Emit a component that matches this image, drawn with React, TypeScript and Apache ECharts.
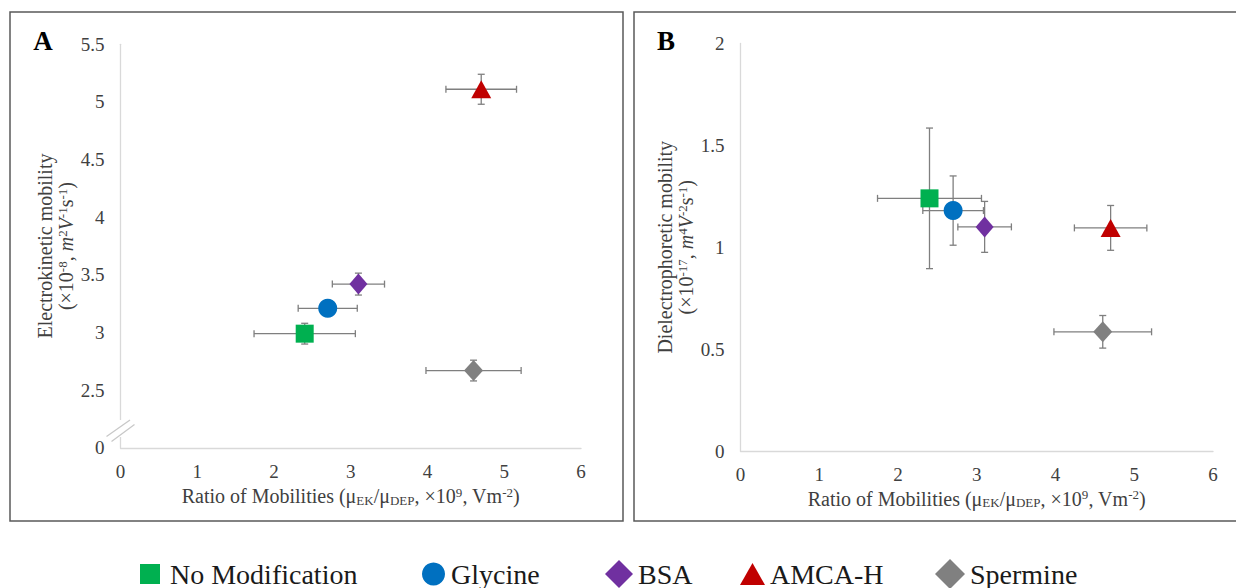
import React, { useEffect, useRef } from "react";
import * as echarts from "echarts";

const groups = ["No Modification", "Glycine", "BSA", "AMCA-H", "Spermine"];
const colors = ["#00b050", "#0070c0", "#7030a0", "#c00000", "#808080"];
const symbols = ["rect", "circle", "diamond", "triangle", "diamond"];
const symbolSizes: any[] = [18, 19, [18, 21], [20, 18], [19, 21]];

// Ratio of mobilities (x, both panels) and its error
const ratio = [2.4, 2.7, 3.1, 4.7, 4.6];
const ratioErr = [0.66, 0.385, 0.34, 0.46, 0.62];
// Panel A: electrokinetic mobility
const ekMob = [2.99, 3.21, 3.42, 5.11, 2.67];
const ekErr = [0.09, 0.05, 0.095, 0.13, 0.09];
// Panel B: dielectrophoretic mobility
const depMob = [1.24, 1.18, 1.1, 1.095, 0.585];
const depErr = [0.345, 0.17, 0.125, 0.11, 0.08];

const xTicks = [0, 1, 2, 3, 4, 5, 6];
const aYTicks = [2, 2.5, 3, 3.5, 4, 4.5, 5, 5.5];
const aYBreakLabel = "0";

const FONT = "'Liberation Serif', 'Times New Roman', serif";
const TXT = "#404040";

const richBase = {
  n: { fontSize: 20, fontFamily: FONT, color: TXT, lineHeight: 21 },
  i: { fontSize: 20, fontFamily: FONT, color: TXT, lineHeight: 21, fontStyle: "italic" },
  s: { fontSize: 13, fontFamily: FONT, color: TXT, lineHeight: 13, verticalAlign: "top" },
  b: { fontSize: 13, fontFamily: FONT, color: TXT, lineHeight: 13, verticalAlign: "bottom" },
};
const tickRich = { t: { fontSize: 19, fontFamily: FONT, color: TXT, lineHeight: 19 } };

const xName =
  "{n|Ratio of Mobilities (μ}{b|EK}{n|/μ}{b|DEP}{n|, ×10}{s|9}{n|, Vm}{s|-2}{n|)}";
const aYName =
  "{n|Electrokinetic mobility}\n{n|(×10}{s|-8}{n|, }{i|m}{s|2}{i|V}{s|-1}{n|s}{s|-1}{n|)}";
const bYName =
  "{n|Dielectrophoretic mobility}\n{n|(×10}{s|-17}{n|, }{i|m}{s|4}{i|V}{s|-2}{n|s}{s|-1}{n|)}";

function errorRender(params: any, api: any) {
  const x = api.value(0);
  const y = api.value(1);
  const xe = api.value(2);
  const ye = api.value(3);
  const l = api.coord([x - xe, y]);
  const r = api.coord([x + xe, y]);
  const t = api.coord([x, y + ye]);
  const b = api.coord([x, y - ye]);
  const cap = 3.5;
  const style = { stroke: "#7f7f7f", lineWidth: 1.3 };
  const ln = (x1: number, y1: number, x2: number, y2: number) => ({
    type: "line",
    shape: { x1, y1, x2, y2 },
    style,
  });
  return {
    type: "group",
    children: [
      ln(l[0], l[1], r[0], r[1]),
      ln(l[0], l[1] - cap, l[0], l[1] + cap),
      ln(r[0], r[1] - cap, r[0], r[1] + cap),
      ln(t[0], t[1], b[0], b[1]),
      ln(t[0] - cap, t[1], t[0] + cap, t[1]),
      ln(b[0] - cap, b[1], b[0] + cap, b[1]),
    ],
  };
}

export default function App() {
  const ref = useRef<HTMLDivElement>(null);
  useEffect(() => {
    document.body.style.margin = "0";
    const chart = echarts.init(ref.current!, null, { renderer: "svg" });

    const axisCommon = {
      axisLine: { show: true, lineStyle: { color: "#d9d9d9", width: 1.3 } },
      axisTick: { show: false },
      splitLine: { show: false },
    };

    const legendPos = [
      { left: 140, w: 20, h: 20, pad: 5 },
      { left: 422, w: 23, h: 23, pad: 1 },
      { left: 605, w: 28, h: 28, pad: 0 },
      { left: 740, w: 25, h: 22, pad: 0 },
      { left: 935, w: 30, h: 30, pad: 0 },
    ];

    const scatterSeries: any[] = [];
    groups.forEach((g, k) => {
      [0, 1].forEach((p) => {
        scatterSeries.push({
          type: "scatter",
          name: g,
          xAxisIndex: p,
          yAxisIndex: p,
          symbol: symbols[k],
          symbolSize: symbolSizes[k],
          itemStyle: { color: colors[k], opacity: 1 },
          z: 5,
          data: [[ratio[k], p === 0 ? ekMob[k] : depMob[k]]],
        });
      });
    });

    const option: any = {
      animation: false,
      backgroundColor: "#ffffff",
      textStyle: { fontFamily: FONT },
      grid: [
        { left: 120.5, top: 44.3, width: 460.5, height: 403.5 },
        { left: 740.5, top: 43.5, width: 472.5, height: 407.5 },
      ],
      xAxis: [0, 1].map((p) => ({
        type: "value",
        gridIndex: p,
        min: xTicks[0],
        max: xTicks[xTicks.length - 1],
        interval: 1,
        ...axisCommon,
        axisLabel: {
          margin: p === 0 ? 14 : 13.5,
          formatter: (v: number) => `{t|${v}}`,
          rich: tickRich,
        },
        name: xName,
        nameLocation: "middle",
        nameGap: p === 0 ? 37 : 34,
        nameTextStyle: { rich: richBase },
      })),
      yAxis: [
        {
          type: "value",
          gridIndex: 0,
          min: aYTicks[0],
          max: aYTicks[aYTicks.length - 1],
          interval: 0.5,
          ...axisCommon,
          axisLabel: {
            margin: 16,
            formatter: (v: number) => `{t|${v === aYTicks[0] ? aYBreakLabel : String(v)}}`,
            rich: tickRich,
          },
          name: aYName,
          nameLocation: "middle",
          nameRotate: 90,
          nameGap: 43,
          nameTextStyle: { rich: richBase, lineHeight: 21 },
        },
        {
          type: "value",
          gridIndex: 1,
          min: 0,
          max: 2,
          interval: 0.5,
          ...axisCommon,
          axisLabel: {
            margin: 16,
            formatter: (v: number) => `{t|${v}}`,
            rich: tickRich,
          },
          name: bYName,
          nameLocation: "middle",
          nameRotate: 90,
          nameGap: 42,
          nameTextStyle: { rich: richBase, lineHeight: 21 },
        },
      ],
      legend: groups.map((g, k) => ({
        data: [{ name: g, icon: symbols[k] }],
        left: legendPos[k].left,
        top: 559,
        padding: 0,
        itemWidth: legendPos[k].w,
        itemHeight: legendPos[k].h,
        selectedMode: false,
        formatter: "{t|{name}}",
        textStyle: {
          fontFamily: FONT,
          fontSize: 28,
          lineHeight: 30,
          padding: [0, 0, 0, legendPos[k].pad],
          rich: {
            t: { fontSize: 28, fontFamily: FONT, color: "#1a1a1a", lineHeight: 30 },
          },
        },
      })),
      graphic: [
        {
          type: "rect",
          z: 100,
          shape: { x: 10, y: 12, width: 613, height: 509 },
          style: { fill: "none", stroke: "#595959", lineWidth: 1.5 },
        },
        {
          type: "rect",
          z: 100,
          shape: { x: 634, y: 12, width: 620, height: 509 },
          style: { fill: "none", stroke: "#595959", lineWidth: 1.5 },
        },
        {
          type: "text",
          z: 100,
          x: 43,
          y: 41,
          style: {
            text: "{a|A}",
            rich: { a: { fontSize: 27, fontWeight: "bold", fontFamily: FONT, color: "#000" } },
            align: "center",
            verticalAlign: "middle",
          },
        },
        {
          type: "text",
          z: 100,
          x: 666,
          y: 41,
          style: {
            text: "{a|B}",
            rich: { a: { fontSize: 27, fontWeight: "bold", fontFamily: FONT, color: "#000" } },
            align: "center",
            verticalAlign: "middle",
          },
        },
        {
          type: "rect",
          z: 100,
          shape: { x: 117, y: 420, width: 8, height: 17 },
          style: { fill: "#ffffff" },
        },
        {
          type: "line",
          z: 101,
          shape: { x1: 106.5, y1: 436.5, x2: 130, y2: 420 },
          style: { stroke: "#c8c8c8", lineWidth: 1.3 },
        },
        {
          type: "line",
          z: 101,
          shape: { x1: 111.5, y1: 441.5, x2: 134.5, y2: 424.5 },
          style: { stroke: "#c8c8c8", lineWidth: 1.3 },
        },
      ],
      series: [
        {
          type: "custom",
          xAxisIndex: 0,
          yAxisIndex: 0,
          z: 3,
          renderItem: errorRender,
          encode: { x: 0, y: 1 },
          data: groups.map((_, k) => [ratio[k], ekMob[k], ratioErr[k], ekErr[k]]),
        },
        {
          type: "custom",
          xAxisIndex: 1,
          yAxisIndex: 1,
          z: 3,
          renderItem: errorRender,
          encode: { x: 0, y: 1 },
          data: groups.map((_, k) => [ratio[k], depMob[k], ratioErr[k], depErr[k]]),
        },
        ...scatterSeries,
      ],
    };
    chart.setOption(option);
    return () => chart.dispose();
  }, []);
  return <div ref={ref} style={{ width: 1236, height: 588 }} />;
}
